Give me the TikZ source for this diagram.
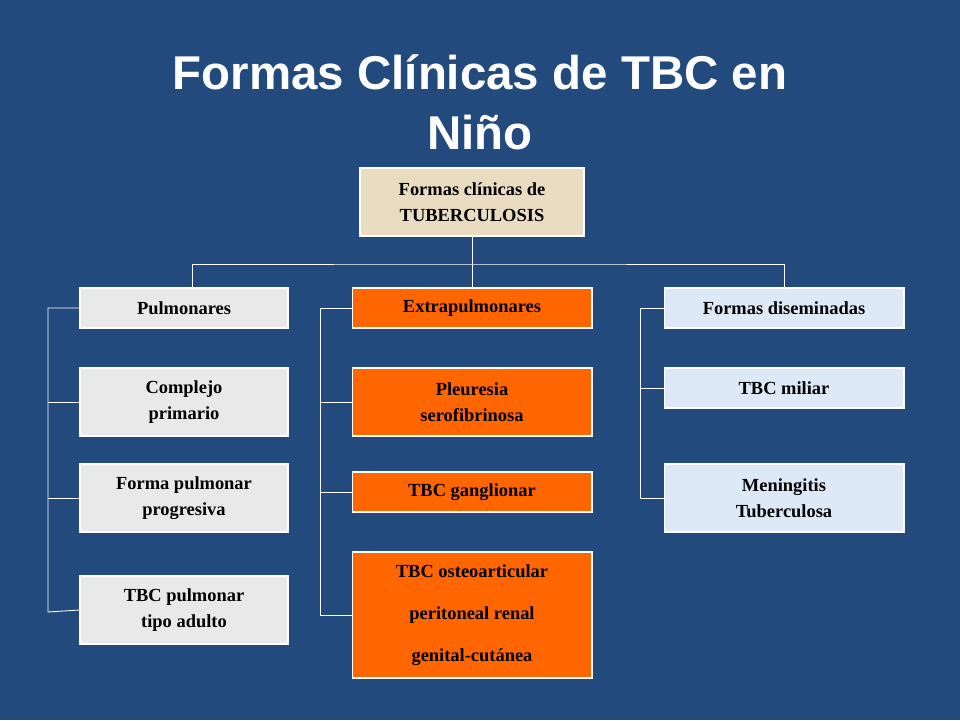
\documentclass[tikz,border=0pt]{standalone}
\usepackage{fontspec}
\setmainfont{Liberation Serif}
\newfontfamily\titlefont{Liberation Sans}
\usetikzlibrary{positioning}
\definecolor{fondo}{HTML}{224A7C}
\definecolor{beige}{HTML}{EADCC0}
\definecolor{gris}{HTML}{E9E9E9}
\definecolor{naranja}{HTML}{FF6600}
\definecolor{celeste}{HTML}{DDE9F6}
\tikzset{
	caja/.style={draw=white, line width=0.6pt, minimum width=4.16cm, minimum height=0.8cm,
		align=center, font=\bfseries\fontsize{10.5}{15}\selectfont, inner sep=2pt},
	pulm/.style={caja, fill=gris},
	extra/.style={caja, fill=naranja, minimum width=4.8cm},
	disem/.style={caja, fill=celeste, minimum width=4.8cm},
	rama/.style={draw=white, line width=0.5pt}}

\begin{document}
\begin{tikzpicture}[x=0.02cm, y=-0.02cm]
		\fill[fondo] (0,0) rectangle (960,720);
		\useasboundingbox (0,0) rectangle (960,720);
		
		\node[text=white, align=center, font=\titlefont\bfseries\fontsize{27}{34}\selectfont] (titulo) at (480,102) {Formas Clínicas de TBC en\\Niño};
		
		\node[caja, fill=beige, minimum width=4.48cm, minimum height=1.36cm] (raiz) at (472,202) {Formas clínicas de\\TUBERCULOSIS};
		
		\node[pulm] (p0) at (184,308) {Pulmonares};
		\node[pulm, minimum height=1.36cm] (p1) at (184,402) {Complejo\\primario};
		\node[pulm, minimum height=1.36cm] (p2) at (184,498) {Forma pulmonar\\progresiva};
		\node[pulm, minimum height=1.36cm] (p3) at (184,610) {TBC pulmonar\\tipo adulto};
		
		\node[extra] (e0) at (472,308) {Extrapulmonares};
		\node[extra, minimum height=1.36cm] (e1) at (472,402) {Pleuresia\\serofibrinosa};
		\node[extra] (e2) at (472,492) {TBC ganglionar};
		\node[extra, minimum height=2.52cm, font=\bfseries\fontsize{10.5}{24}\selectfont] (e3) at (472,615) {TBC osteoarticular\\peritoneal renal\\genital-cutánea};
		
		\node[disem] (d0) at (784,308) {Formas diseminadas};
		\node[disem] (d1) at (784,388) {TBC miliar};
		\node[disem, minimum height=1.36cm] (d2) at (784,498) {Meningitis\\Tuberculosa};
		
		\coordinate (cruce) at (472,264);
		\draw[rama] (raiz.south) -- (cruce);
		\draw[rama] (192,288) |- (cruce) -| (d0.north);
		\draw[rama] (cruce) -- (e0.north);
		
		\draw[rama] (p0.west) -| (48,612) -- (p3.west);
		\draw[rama] (48,402) -- (p1.west);
		\draw[rama] (48,498) -- (p2.west);
		
		\draw[rama] (e0.west) -| (320,615) -- (e3.west);
		\draw[rama] (320,402) -- (e1.west);
		\draw[rama] (320,492) -- (e2.west);
		
		\draw[rama] (d0.west) -| (640,498) -- (d2.west);
		\draw[rama] (640,388) -- (d1.west);
		
	\end{tikzpicture}
\end{document}
